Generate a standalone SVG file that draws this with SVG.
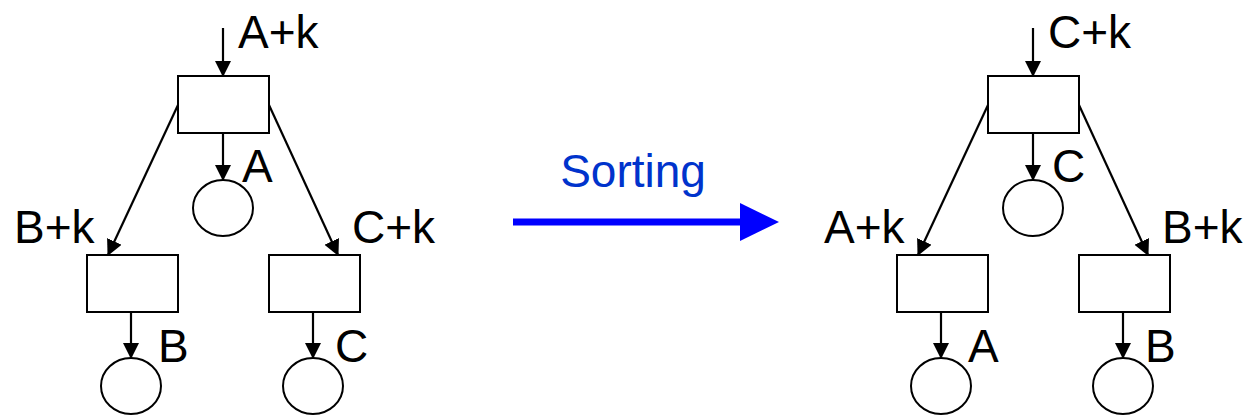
<svg xmlns="http://www.w3.org/2000/svg" width="1245" height="415" viewBox="0 0 1245 415">
<style>
.box{fill:#fff;stroke:#000;stroke-width:2}
.pl{fill:#fff;stroke:#000;stroke-width:2}
.ed{stroke:#000;stroke-width:2.2;fill:none;marker-end:url(#ah)}
.t{font-family:"Liberation Sans",Arial,sans-serif;font-size:46px;fill:#000}
</style>
<defs>
<marker id="ah" markerUnits="userSpaceOnUse" markerWidth="17" markerHeight="17" refX="15" refY="8" orient="auto">
<path d="M0,0 L16,8 L0,16 Z" fill="#000"/>
</marker>
</defs>
<g id="connectors">
<line class="ed" x1="223" y1="28" x2="223" y2="76"/>
<line class="ed" x1="223" y1="133" x2="223" y2="180"/>
<line class="ed" x1="178" y1="105" x2="108" y2="255"/>
<line class="ed" x1="269" y1="105" x2="338" y2="255"/>
<line class="ed" x1="131" y1="312" x2="131" y2="358"/>
<line class="ed" x1="313" y1="312" x2="313" y2="358"/>
<line class="ed" x1="1033" y1="28" x2="1033" y2="76"/>
<line class="ed" x1="1033" y1="133" x2="1033" y2="180"/>
<line class="ed" x1="988" y1="105" x2="918" y2="255"/>
<line class="ed" x1="1079" y1="105" x2="1148" y2="255"/>
<line class="ed" x1="941" y1="312" x2="941" y2="358"/>
<line class="ed" x1="1123" y1="312" x2="1123" y2="358"/>
</g>
<g id="sort-arrow">
<line x1="513" y1="222" x2="742" y2="222" stroke="#0000ff" stroke-width="7"/>
<path d="M740,203 L779,222 L740,241 Z" fill="#0000ff"/>
<text x="633" y="187" text-anchor="middle" class="t" style="fill:#0033cc">Sorting</text>
</g>
<g id="L-top"><rect class="box" x="178" y="76" width="91" height="57"/><text class="t" x="238" y="48">A+k</text></g>
<g id="L-pA"><ellipse class="pl" cx="223" cy="208" rx="30" ry="28"/><text class="t" x="242" y="182">A</text></g>
<g id="L-left"><rect class="box" x="87" y="255" width="91" height="57"/><text class="t" x="14" y="243">B+k</text></g>
<g id="L-right"><rect class="box" x="269" y="255" width="91" height="57"/><text class="t" x="352" y="243">C+k</text></g>
<g id="L-pB"><ellipse class="pl" cx="131" cy="386" rx="30" ry="28"/><text class="t" x="158" y="362">B</text></g>
<g id="L-pC"><ellipse class="pl" cx="313" cy="386" rx="30" ry="28"/><text class="t" x="335" y="362">C</text></g>
<g id="R-top"><rect class="box" x="988" y="76" width="91" height="57"/><text class="t" x="1048" y="48">C+k</text></g>
<g id="R-pC"><ellipse class="pl" cx="1033" cy="208" rx="30" ry="28"/><text class="t" x="1052" y="182">C</text></g>
<g id="R-left"><rect class="box" x="897" y="255" width="91" height="57"/><text class="t" x="824" y="243">A+k</text></g>
<g id="R-right"><rect class="box" x="1079" y="255" width="91" height="57"/><text class="t" x="1162" y="243">B+k</text></g>
<g id="R-pA"><ellipse class="pl" cx="941" cy="386" rx="30" ry="28"/><text class="t" x="968" y="362">A</text></g>
<g id="R-pB"><ellipse class="pl" cx="1123" cy="386" rx="30" ry="28"/><text class="t" x="1145" y="362">B</text></g>
</svg>
